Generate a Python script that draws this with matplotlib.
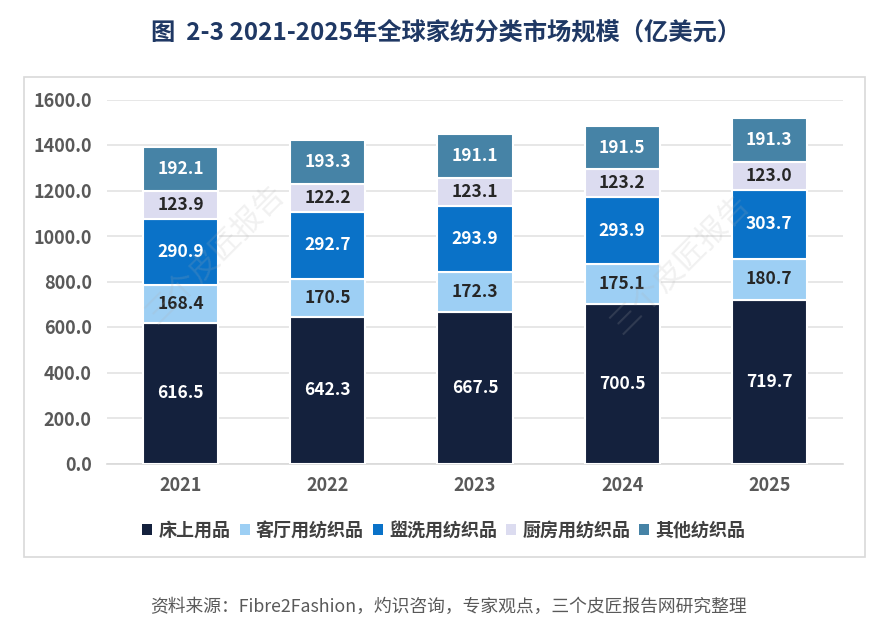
import matplotlib
matplotlib.use("Agg")
import matplotlib.pyplot as plt
from matplotlib.patches import Rectangle, Patch
import numpy as np

plt.rcParams['font.family'] = ['Noto Sans CJK SC', 'DejaVu Sans']

years = ["2021", "2022", "2023", "2024", "2025"]
series_names = ["床上用品", "客厅用纺织品", "盥洗用纺织品", "厨房用纺织品", "其他纺织品"]
bed = [616.5, 642.3, 667.5, 700.5, 719.7]
living = [168.4, 170.5, 172.3, 175.1, 180.7]
bath = [290.9, 292.7, 293.9, 293.9, 303.7]
kitchen = [123.9, 122.2, 123.1, 123.2, 123.0]
other = [192.1, 193.3, 191.1, 191.5, 191.3]
yticks = [0, 200, 400, 600, 800, 1000, 1200, 1400, 1600]

title = "图  2-3 2021-2025年全球家纺分类市场规模（亿美元）"
source = "资料来源：Fibre2Fashion，灼识咨询，专家观点，三个皮匠报告网研究整理"

colors = ["#14213D", "#9DCFF4", "#0A72C8", "#DCDCF0", "#4683A6"]
label_colors = ["white", "#262626", "white", "#262626", "white"]

W, H = 896, 638
fig = plt.figure(figsize=(W / 100, H / 100), dpi=100)
fig.patch.set_facecolor("white")

# outer frame
fig.add_artist(Rectangle((24 / W, 1 - 557 / H), (865 - 24) / W, (557 - 77) / H,
                         transform=fig.transFigure, fill=False,
                         edgecolor="#D9D9D9", linewidth=1.2))

ax = fig.add_axes([107 / W, 1 - 463.5 / H, (843 - 107) / W, (463.5 - 99.5) / H])
x = np.arange(len(years))
data = [bed, living, bath, kitchen, other]
bottom = np.zeros(len(years))
for vals, col, lc, name in zip(data, colors, label_colors, series_names):
    v = np.array(vals)
    ax.bar(x, v, width=0.51, bottom=bottom, color=col, edgecolor="white",
           linewidth=1.5, label=name, zorder=3)
    for xi, b, vi in zip(x, bottom, v):
        ax.text(xi, b + vi / 2, f"{vi:.1f}", ha="center", va="center",
                color=lc, fontsize=12.5, fontweight="bold", zorder=4)
    bottom = bottom + v

ax.set_xlim(-0.5, 4.5)
ax.set_ylim(0, 1600)
ax.set_yticks(yticks)
ax.set_yticklabels([f"{t:.1f}" for t in yticks])
ax.set_xticks(x)
ax.set_xticklabels(years)
ax.grid(axis="y", color="#E3E3E3", linewidth=1.2, zorder=0)
for s in ["top", "right", "left"]:
    ax.spines[s].set_visible(False)
ax.spines["bottom"].set_color("#D9D9D9")
ax.spines["bottom"].set_linewidth(1.2)
ax.tick_params(axis="both", length=0, labelsize=13, labelcolor="#595959")
ax.tick_params(axis="y", pad=11)
ax.tick_params(axis="x", pad=9)
for lab in ax.get_xticklabels() + ax.get_yticklabels():
    lab.set_fontweight("bold")

# watermarks
for (wx, wy) in [(215, 255), (680, 265)]:
    fig.text(wx / W, 1 - wy / H, "三个皮匠报告", rotation=45, fontsize=22,
             color="#B0B0B0", alpha=0.18, ha="center", va="center")

fig.text(446 / W, 1 - 32 / H, title, ha="center", va="center", fontsize=17.5,
         fontweight="bold", color="#1F3864")

handles = [Patch(facecolor=c, edgecolor="none") for c in colors]
leg = fig.legend(handles, series_names, loc="center", bbox_to_anchor=(444 / W, 1 - 530 / H),
                 ncol=5, frameon=False, handlelength=0.55, handleheight=0.55,
                 handletextpad=0.35, columnspacing=0.5,
                 prop={"size": 13, "weight": "bold"})
for t in leg.get_texts():
    t.set_color("#404040")

fig.text(448 / W, 1 - 607 / H, source, ha="center", va="center", fontsize=12.8,
         color="#595959")

fig.savefig("out.png", dpi=100, facecolor="white")
